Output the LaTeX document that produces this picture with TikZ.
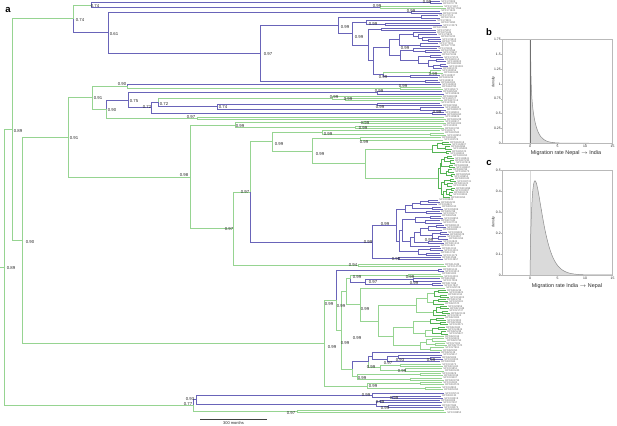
\documentclass[tikz,border=0pt]{standalone}
\usepackage{fontspec}
\setmainfont{Liberation Sans}
\usetikzlibrary{calc}
\definecolor{grn}{RGB}{150,212,145}
\definecolor{dgrn}{RGB}{85,180,85}
\definecolor{blu}{RGB}{105,100,185}
\definecolor{labc}{RGB}{40,40,40}
\definecolor{tipcol}{RGB}{105,105,105}
\definecolor{fillg}{RGB}{218,218,218}
\definecolor{curveg}{RGB}{140,140,140}
\definecolor{frameg}{RGB}{185,185,185}
\newcount\tipcnt
\newcommand\tipname{\global\advance\tipcnt by 1\relax\ifodd\tipcnt SPX\else BPN\fi\number\numexpr170000+\tipcnt*389\relax}
\newcommand\Tp[3]{\coordinate (#1) at (#2,#3); \node[tl] (#1t) at (#1) {\tipname};}
\newcommand\Jn[6]{\coordinate (#1m) at ($(#3)!0.5!(#4)$); \coordinate (#1) at (#2,0 |- #1m); \draw[#5] (#1) |- (#3); \draw[#6] (#1) |- (#4);}
\newcommand\Ch[7]{\Tp{#1a}{#3}{#4}\Tp{#1b}{#5}{#6}\Jn{#1}{#2}{#1a}{#1b}{#7}{#7}}
\tikzset{
 gl/.style={draw=grn, line width=0.7pt},
 bl/.style={draw=blu, line width=0.7pt},
 dg/.style={draw=dgrn, line width=0.7pt},
 tl/.style={anchor=west, inner sep=0pt, xshift=1.2pt, font=\fontsize{2.6}{2.6}\selectfont, text=tipcol},
 sup/.style={inner sep=0pt, font=\fontsize{4.3}{4.3}\selectfont, text=labc},
 tkl/.style={draw=frameg, line width=0.35pt},
 tkf/.style={inner sep=0pt, font=\fontsize{3.4}{3.4}\selectfont, text=labc},
 axl/.style={inner sep=0pt, font=\fontsize{5.4}{5.4}\selectfont, text=labc},
 panl/.style={inner sep=0pt, font=\fontsize{9.5}{9.5}\selectfont\bfseries},
}
\begin{document}
\begin{tikzpicture}[x=1pt,y=-1pt]
\useasboundingbox (0,0) rectangle (617,425);
% ---------------- top clade ----------------
\Ch{C1}{430}{440}{1.3}{442}{3.6}{bl}
\Ch{C2}{380}{443}{6.3}{446}{8.6}{gl}
\Jn{C}{91}{C1}{C2}{bl}{bl}
\Ch{D1}{411}{440}{11}{442}{13.3}{bl}
\Ch{F1}{421}{438}{15.8}{440}{18.1}{bl}
\Tp{g1}{436}{20.6}
\Ch{G1b}{385}{440}{23}{442}{25.3}{bl}
\Jn{G1}{366}{g1}{G1b}{bl}{bl}
\Ch{H1}{381}{432}{28}{436}{30.25}{bl}
\Tp{h3}{436}{32.5}
\Tp{h4}{437}{34.75}
\Tp{h5}{440}{37}
\Ch{H5e}{428}{441}{39.25}{441}{41.5}{bl}
\Jn{H5d}{422}{h5}{H5e}{bl}{bl}
\Jn{H5c}{418}{h4}{H5d}{bl}{bl}
\Jn{H5a}{413}{h3}{H5c}{bl}{bl}
\Ch{H5b}{420}{438}{43.75}{440}{46}{bl}
\Jn{H5}{399}{H5a}{H5b}{bl}{bl}
\Tp{h10}{437}{48.25}
\Ch{H6a1}{425}{440}{50.5}{442}{52.75}{bl}
\Jn{H6a}{413}{h10}{H6a1}{bl}{bl}
\Ch{H6c}{430}{441}{55}{443}{57.25}{bl}
\Ch{H6e}{436}{444}{59.5}{446}{61.75}{bl}
\Ch{H6f}{440}{446}{64}{448}{66.25}{bl}
\Tp{h19}{442}{68.5}
\Jn{H6g}{433}{H6f}{h19}{bl}{bl}
\Jn{H6d}{428}{H6e}{H6g}{bl}{bl}
\Jn{H6b}{418}{H6c}{H6d}{bl}{bl}
\Jn{H6}{400}{H6a}{H6b}{bl}{bl}
\Jn{H3}{389}{H5}{H6}{bl}{bl}
\Ch{H4g}{430}{441}{70.75}{443}{73}{gl}
\Ch{H4b}{410}{440}{75.25}{438}{77.5}{bl}
\Jn{H4}{383}{H4g}{H4b}{gl}{bl}
\Jn{H2}{373}{H3}{H4}{bl}{bl}
\Jn{H}{368}{H1}{H2}{bl}{bl}
\Jn{G}{352}{G1}{H}{bl}{bl}
\Jn{F}{338}{F1}{G}{bl}{bl}
\Ch{E2}{425}{438}{80.2}{440}{82.5}{bl}
\Jn{E}{260}{F}{E2}{bl}{bl}
\Jn{D}{108}{D1}{E}{bl}{bl}
\Jn{B}{73}{C}{D}{gl}{bl}
% ---------------- J clade ----------------
\Tp{j1}{441}{84.5}
\Ch{J1b}{400}{441}{87}{443}{89.3}{gl}
\Jn{J1}{127}{j1}{J1b}{bl}{gl}
\Ch{M1}{377}{442}{91.6}{444}{93.9}{bl}
\Tp{o1}{442}{96.2}
\Ch{O1b}{345}{441}{98.5}{443}{100.8}{gl}
\Jn{O1}{332}{o1}{O1b}{gl}{gl}
\Ch{O2a}{377}{440}{103.1}{442}{105.4}{bl}
\Ch{O2b}{420}{444}{107.7}{446}{110}{bl}
\Jn{O2}{217}{O2a}{O2b}{bl}{bl}
\Jn{O}{158}{O1}{O2}{gl}{bl}
\Ch{M2b}{432}{444}{112.3}{446}{114.6}{bl}
\Jn{M2}{151}{O}{M2b}{bl}{bl}
\Jn{M}{128}{M1}{M2}{bl}{bl}
\Ch{N}{197}{444}{116.9}{446}{119.2}{gl}
\Jn{L}{106}{M}{N}{bl}{gl}
\Jn{J}{92}{J1}{L}{gl}{gl}
% ---------------- K clade ----------------
\Ch{K1a}{363}{444}{121.5}{446}{123.8}{gl}
\Ch{K1b}{355}{442}{126.1}{444}{128.4}{gl}
\Jn{K1}{235}{K1a}{K1b}{gl}{gl}
\Tp{r1}{440}{130.7}
\Ch{R1b}{430}{444}{133}{446}{135.3}{gl}
\Jn{R1}{322}{r1}{R1b}{gl}{gl}
\Ch{S1}{360}{441}{137.6}{443}{139.9}{gl}
\Ch{T1a}{442}{449}{142.2}{451}{144.5}{dg}
\Ch{T1b}{445}{450}{146.8}{452}{149.1}{dg}
\Jn{T1c}{437}{T1a}{T1b}{dg}{dg}
\Ch{T1d}{446}{451}{151.4}{449}{153.7}{dg}
\Jn{T1}{432}{T1c}{T1d}{dg}{dg}
\Ch{ta1}{447}{452}{156}{454}{158.3}{dg}
\Ch{ta2}{450}{454}{160.6}{455}{162.9}{dg}
\Jn{ta3}{444}{ta1}{ta2}{dg}{dg}
\Ch{ta4}{449}{453}{165.2}{455}{167.5}{dg}
\Jn{ta5}{441}{ta3}{ta4}{dg}{dg}
\Ch{ta6}{448}{452}{169.8}{454}{172.1}{dg}
\Ch{ta7}{451}{455}{174.4}{453}{176.7}{dg}
\Jn{ta8}{446}{ta6}{ta7}{dg}{dg}
\Jn{ta9}{440}{ta5}{ta8}{dg}{dg}
\Ch{tb1}{450}{454}{179}{456}{181.3}{dg}
\Ch{tb2}{447}{453}{183.6}{452}{185.9}{dg}
\Jn{tb3}{444}{tb1}{tb2}{dg}{dg}
\Ch{tb4}{451}{455}{188.2}{454}{190.5}{dg}
\Ch{tb5}{449}{453}{192.8}{452}{195.1}{dg}
\Jn{tb6}{446}{tb4}{tb5}{dg}{dg}
\Tp{u19}{450}{197.4}
\Jn{tb7}{443}{tb6}{u19}{dg}{dg}
\Jn{tb8}{441}{tb3}{tb7}{dg}{dg}
\Jn{T2}{438}{ta9}{tb8}{dg}{dg}
\Jn{T}{365}{T1}{T2}{gl}{gl}
\Jn{S}{312}{S1}{T}{gl}{gl}
\Jn{R}{272}{R1}{S}{gl}{gl}
\Ch{Wa1}{428}{438}{200}{440}{202.3}{bl}
\Tp{v3}{437}{204.6}
\Jn{Wa2}{420}{Wa1}{v3}{bl}{bl}
\Ch{Wa3}{432}{441}{206.9}{443}{209.2}{bl}
\Jn{Wa4}{412}{Wa2}{Wa3}{bl}{bl}
\Ch{Wa5}{426}{440}{211.5}{442}{213.8}{bl}
\Jn{Wa6}{405}{Wa4}{Wa5}{bl}{bl}
\Ch{Wb1}{430}{441}{216.1}{443}{218.4}{bl}
\Ch{Wb2}{425}{440}{220.7}{442}{223}{bl}
\Jn{Wb3}{415}{Wb1}{Wb2}{bl}{bl}
\Ch{Wc1}{436}{444}{225.3}{446}{227.6}{bl}
\Tp{v14}{442}{229.9}
\Jn{Wc2}{428}{Wc1}{v14}{bl}{bl}
\Ch{Wc3}{440}{447}{232.2}{449}{234.5}{bl}
\Ch{Wc4}{438}{446}{236.8}{448}{239.1}{bl}
\Jn{Wc5}{432}{Wc3}{Wc4}{bl}{bl}
\Jn{Wc6}{420}{Wc2}{Wc5}{bl}{bl}
\Ch{Wc7}{428}{442}{241.4}{444}{243.7}{bl}
\Jn{Wc8}{414}{Wc6}{Wc7}{bl}{bl}
\Tp{v21}{440}{246}
\Jn{Wc9}{410}{Wc8}{v21}{bl}{bl}
\Ch{Wd1}{430}{441}{248.3}{443}{250.6}{bl}
\Ch{Wd2}{426}{440}{252.9}{442}{255.2}{bl}
\Jn{Wd3}{418}{Wd1}{Wd2}{bl}{bl}
\Jn{W5}{402}{Wb3}{Wc9}{bl}{bl}
\Jn{W6}{399}{W5}{Wd3}{bl}{bl}
\Jn{W}{396}{Wa6}{W6}{bl}{bl}
\Ch{Vb}{398}{441}{257.5}{443}{259.8}{bl}
\Jn{V}{372}{W}{Vb}{bl}{bl}
\Jn{Q}{250}{R}{V}{gl}{bl}
\Ch{K2b}{358}{444}{264.5}{446}{266.8}{gl}
\Jn{K2}{233}{Q}{K2b}{gl}{gl}
\Jn{K}{190}{K1}{K2}{gl}{gl}
\Jn{I}{68}{J}{K}{gl}{gl}
% ---------------- P clade ----------------
\Ch{Pa1}{438}{442}{269.3}{444}{271.6}{bl}
\Ch{Pf1}{408}{441}{274}{443}{276.3}{gl}
\Ch{Pf2a}{413}{440}{278.6}{442}{280.9}{bl}
\Ch{Pf2b}{432}{441}{283.2}{443}{285.5}{bl}
\Jn{Pf2}{365}{Pf2a}{Pf2b}{bl}{bl}
\Jn{Pf}{350}{Pf1}{Pf2}{gl}{bl}
\Ch{ga1}{438}{446}{290.3}{448}{292.6}{dg}
\Ch{ga2}{440}{447}{294.9}{449}{297.2}{dg}
\Jn{ga3}{434}{ga1}{ga2}{dg}{dg}
\Ch{ga4}{438}{446}{299.5}{448}{301.8}{dg}
\Tp{ga7}{444}{304.1}
\Jn{ga5}{433}{ga4}{ga7}{dg}{dg}
\Jn{GcA1}{427}{ga3}{ga5}{gl}{gl}
\Ch{gb1}{440}{447}{306.4}{449}{308.7}{dg}
\Ch{gb2}{442}{448}{311}{450}{313.3}{dg}
\Jn{gb3}{436}{gb1}{gb2}{dg}{dg}
\Tp{gb5}{446}{315.6}
\Jn{GcA2}{433}{gb3}{gb5}{dg}{dg}
\Jn{GcA}{416}{GcA1}{GcA2}{gl}{gl}
\Ch{gc1}{436}{444}{317.9}{446}{320.2}{dg}
\Ch{gc2}{440}{446}{322.5}{448}{324.8}{dg}
\Jn{gc3}{430}{gc1}{gc2}{dg}{dg}
\Ch{gc4}{438}{445}{327.1}{447}{329.4}{dg}
\Ch{gc5}{441}{446}{331.7}{448}{334}{dg}
\Jn{gc6}{432}{gc4}{gc5}{dg}{dg}
\Tp{gc9}{444}{336.3}
\Jn{gc7}{425}{gc6}{gc9}{gl}{gl}
\Jn{GcB1}{413}{gc3}{gc7}{gl}{gl}
\Ch{gd1}{432}{444}{338.6}{446}{340.9}{gl}
\Ch{gd2}{435}{445}{343.2}{447}{345.5}{gl}
\Jn{gd3}{426}{gd1}{gd2}{gl}{gl}
\Ch{gd4}{430}{444}{347.8}{442}{350.1}{gl}
\Jn{GcB2}{420}{gd3}{gd4}{gl}{gl}
\Jn{GcB}{393}{GcB1}{GcB2}{gl}{gl}
\Jn{Gc2}{378}{GcA}{GcB}{gl}{gl}
\Tp{gt1}{445}{288}
\Jn{Gc}{360}{gt1}{Gc2}{gl}{gl}
\Jn{Pd}{346}{Pf}{Gc}{gl}{gl}
\Tp{e1}{440}{352.6}
\Tp{e2}{442}{354.9}
\Ch{Pe1}{430}{441}{357.2}{443}{359.5}{bl}
\Jn{Pe2}{398}{e2}{Pe1}{bl}{bl}
\Tp{e5}{440}{361.8}
\Jn{Pe3}{387}{Pe2}{e5}{bl}{bl}
\Jn{Pe4}{372}{e1}{Pe3}{bl}{bl}
\Ch{Pe5}{400}{441}{364.1}{443}{366.4}{gl}
\Ch{Pe6}{405}{442}{368.7}{444}{371}{gl}
\Jn{Pe7}{380}{Pe5}{Pe6}{gl}{gl}
\Jn{Pe}{368}{Pe4}{Pe7}{bl}{gl}
\Ch{Pg1}{420}{441}{373.3}{443}{375.6}{gl}
\Ch{Pg2a}{410}{442}{377.9}{444}{380.2}{gl}
\Jn{Pg2}{357}{Pg1}{Pg2a}{gl}{gl}
\Jn{Ph}{352}{Pe}{Pg2}{bl}{gl}
\Jn{Pc}{341}{Pd}{Ph}{gl}{gl}
\Jn{Pa}{336}{Pa1}{Pc}{bl}{gl}
\Ch{Pb1}{420}{442}{382.5}{444}{384.8}{gl}
\Ch{Pb2}{425}{441}{387.1}{443}{389.4}{gl}
\Jn{Pb}{367}{Pb1}{Pb2}{gl}{gl}
\Jn{P}{324}{Pa}{Pb}{gl}{gl}
\Jn{A2}{22}{I}{P}{gl}{gl}
\Jn{A}{12}{B}{A2}{gl}{gl}
% ---------------- Z clade ----------------
\Tp{z1}{444}{393.6}
\Ch{Z3a}{392}{441}{395.9}{443}{398.2}{bl}
\Jn{Z3}{372}{z1}{Z3a}{bl}{bl}
\Ch{Z4a}{380}{440}{400.5}{442}{402.8}{bl}
\Ch{Z4b}{388}{441}{405.1}{443}{407.4}{bl}
\Jn{Z4}{376}{Z4a}{Z4b}{bl}{bl}
\Jn{Z1}{196}{Z3}{Z4}{bl}{bl}
\Ch{Z2}{297}{444}{410}{446}{412.3}{gl}
\Jn{Z}{193}{Z1}{Z2}{bl}{gl}
\Jn{RT}{4}{A}{Z}{gl}{gl}
\coordinate (r0) at (0,0 |- RT);
\draw[gl] (r0) -- (RT);
% ---------------- support values ----------------
\node[sup] (s1) at (427,1.9) {0.99};
\node[sup] (s2) at (95,5.7) {0.74};
\node[sup] (s3) at (377,6) {0.99};
\node[sup] (s4) at (411,11) {0.99};
\node[sup] (s5) at (80,19.7) {0.74};
\node[sup] (s6) at (373,24) {0.99};
\node[sup] (s7) at (345,27) {0.99};
\node[sup] (s8) at (114,34) {0.61};
\node[sup] (s9) at (359,37) {0.99};
\node[sup] (s10) at (405,48) {0.99};
\node[sup] (s11) at (268,54) {0.97};
\node[sup] (s12) at (433,74) {0.99};
\node[sup] (s13) at (383,77) {0.99};
\node[sup] (s14) at (122,84) {0.90};
\node[sup] (s15) at (403,86) {0.99};
\node[sup] (s16) at (379,91) {0.99};
\node[sup] (s17) at (98,98) {0.91};
\node[sup] (s18) at (134,101) {0.75};
\node[sup] (s19) at (334,97) {0.99};
\node[sup] (s20) at (348,99) {0.99};
\node[sup] (s21) at (164,104) {0.72};
\node[sup] (s22) at (147,107) {0.72};
\node[sup] (s23) at (112,110) {0.90};
\node[sup] (s24) at (223,107) {0.74};
\node[sup] (s25) at (380,107) {0.99};
\node[sup] (s26) at (437,112) {0.99};
\node[sup] (s27) at (191,117) {0.97};
\node[sup] (s28) at (365,123) {0.99};
\node[sup] (s29) at (240,126) {0.99};
\node[sup] (s30) at (363,128) {0.99};
\node[sup] (s31) at (18,131) {0.89};
\node[sup] (s32) at (328,134) {0.99};
\node[sup] (s33) at (74,138) {0.91};
\node[sup] (s34) at (279,144) {0.99};
\node[sup] (s35) at (364,142) {0.99};
\node[sup] (s36) at (320,154) {0.99};
\node[sup] (s37) at (184,175) {0.98};
\node[sup] (s38) at (245,192) {0.97};
\node[sup] (s39) at (229,229) {0.97};
\node[sup] (s40) at (385,224) {0.99};
\node[sup] (s41) at (30,242) {0.90};
\node[sup] (s42) at (368,242) {0.99};
\node[sup] (s43) at (429,240) {0.99};
\node[sup] (s44) at (396,259) {0.99};
\node[sup] (s45) at (353,265) {0.94};
\node[sup] (s46) at (11,268) {0.89};
\node[sup] (s47) at (357,277) {0.99};
\node[sup] (s48) at (410,277) {0.99};
\node[sup] (s49) at (373,282) {0.97};
\node[sup] (s50) at (414,283) {0.99};
\node[sup] (s51) at (329,304) {0.99};
\node[sup] (s52) at (341,306) {0.99};
\node[sup] (s53) at (365,309) {0.99};
\node[sup] (s54) at (357,338) {0.99};
\node[sup] (s55) at (345,343) {0.99};
\node[sup] (s56) at (332,347) {0.99};
\node[sup] (s57) at (400,360) {0.93};
\node[sup] (s58) at (431,360) {0.99};
\node[sup] (s59) at (388,363) {0.97};
\node[sup] (s60) at (371,367) {0.99};
\node[sup] (s61) at (402,371) {0.99};
\node[sup] (s62) at (362,378) {0.99};
\node[sup] (s63) at (373,386) {0.99};
\node[sup] (s64) at (366,395) {0.99};
\node[sup] (s65) at (394,398) {0.99};
\node[sup] (s66) at (190,399) {0.93};
\node[sup] (s67) at (380,402) {0.99};
\node[sup] (s68) at (188,404) {0.77};
\node[sup] (s69) at (385,408) {0.99};
\node[sup] (s70) at (291,413) {0.97};
% ---------------- scale bar and panel letters ----------------
\coordinate (sb1) at (200,419);
\coordinate (sb2) at (267,419);
\draw[line width=0.6pt, black!75] (sb1) -- (sb2);
\node[inner sep=0pt, font=\fontsize{4}{4}\selectfont, text=labc] (sbt) at (233.5,423) {300 months};
\node[panl] (la) at (8,10) {a};
\node[panl] (lb) at (489,32) {b};
\node[panl] (lc) at (489,163) {c};
% ---------------- panel b ----------------
\begin{scope}[shift={(530,143.3)}, x=5.5pt, y=59.43pt]
\fill[fillg] (0,0) -- (0,1.75) -- (0.1,1.75) -- plot[domain=0.1:2, samples=70] (\x,{min(1.75,0.9*exp(-\x/0.9)+0.03/(\x^1.5))}) -- plot[domain=2:15, samples=30] (\x,{0.9*exp(-\x/0.9)+0.03/(\x^1.5)}) -- (15,0) -- cycle;
\draw[curveg, line width=0.5pt] (0,0) -- (0,1.75) -- (0.1,1.75) -- plot[domain=0.1:2, samples=70] (\x,{min(1.75,0.9*exp(-\x/0.9)+0.03/(\x^1.5))}) -- plot[domain=2:15, samples=30] (\x,{0.9*exp(-\x/0.9)+0.03/(\x^1.5)});
\draw[curveg!80!black, line width=0.9pt] (0.08,0) -- (0.08,1.75);
\draw[frameg, line width=0.45pt] (-5,0) rectangle (15,1.75);
\foreach \v/\n in {0/0,0.25/1,0.5/2,0.75/3,1/4,1.25/5,1.5/6,1.75/7} {\draw[tkl] (-5,\v) -- ++(-1.2pt,0); \node[tkf,anchor=east] (byt\n) at ([xshift=-1.6pt]-5,\v) {\v};}
\foreach \v/\n in {0/0,5/1,10/2,15/3} {\draw[tkl] (\v,0) -- ++(0,-1.2pt); \node[tkf,anchor=north] (bxt\n) at ([yshift=-1.6pt]\v,0) {\v};}
\end{scope}
\node[axl] (bxl) at (566,153.2) {Migration rate Nepal $\rightarrow$ India};
\node[inner sep=0pt, rotate=90, font=\fontsize{3.6}{3.6}\selectfont, text=labc] (byl) at (493.5,82) {density};
% ---------------- panel c ----------------
\begin{scope}[shift={(530,275)}, x=5.5pt, y=210pt]
\draw[black!15, line width=0.5pt] (0,0) -- (0,0.5);
\fill[fillg] (0,0) -- plot[domain=0.01:15, samples=120] (\x,{1.087*(\x^0.8)*exp(-\x/1.125)}) -- (15,0) -- cycle;
\draw[curveg, line width=0.5pt] (0,0) -- plot[domain=0.01:15, samples=120] (\x,{1.087*(\x^0.8)*exp(-\x/1.125)});
\draw[frameg, line width=0.45pt] (-5,0) rectangle (15,0.5);
\foreach \v/\n in {0/0,0.1/1,0.2/2,0.3/3,0.4/4,0.5/5} {\draw[tkl] (-5,\v) -- ++(-1.2pt,0); \node[tkf,anchor=east] (cyt\n) at ([xshift=-1.6pt]-5,\v) {\v};}
\foreach \v/\n in {0/0,5/1,10/2,15/3} {\draw[tkl] (\v,0) -- ++(0,-1.2pt); \node[tkf,anchor=north] (cxt\n) at ([yshift=-1.6pt]\v,0) {\v};}
\end{scope}
\node[axl] (cxl) at (567,286.5) {Migration rate India $\rightarrow$ Nepal};
\node[inner sep=0pt, rotate=90, font=\fontsize{3.6}{3.6}\selectfont, text=labc] (cyl) at (493.5,222) {density};
\end{tikzpicture}
\end{document}
